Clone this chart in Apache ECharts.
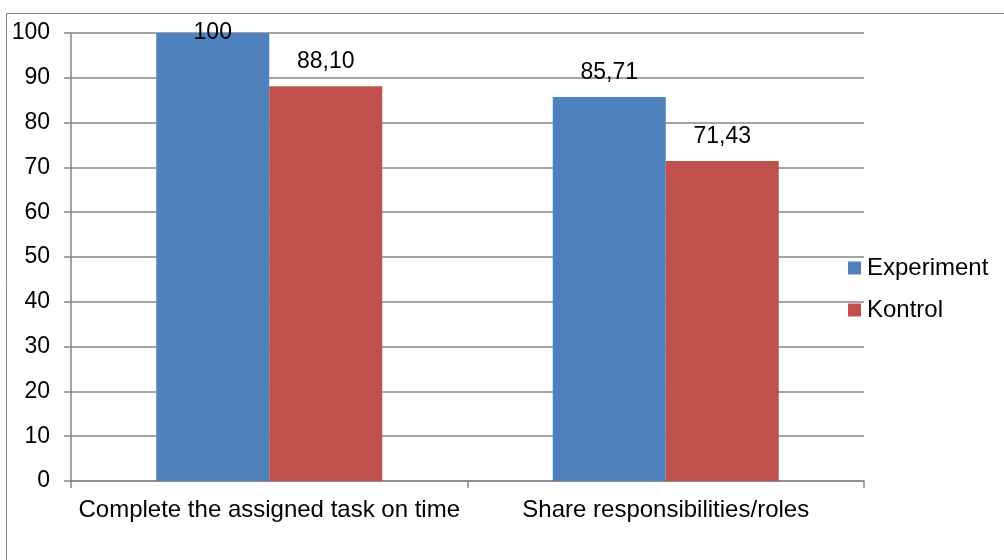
<!DOCTYPE html>
<html>
<head>
<meta charset="utf-8">
<script src="https://cdn.jsdelivr.net/npm/echarts@6/dist/echarts.min.js"></script>
<style>
  html, body { margin: 0; padding: 0; background: #fff; }
  #chart { width: 1004px; height: 560px; }
</style>
</head>
<body>
<div id="chart"></div>
<script>
// Categories and percentages for each group
const categories = ['Complete the assigned task on time', 'Share responsibilities/roles'];
const experimentValues = [100, 85.71];
const kontrolValues = [88.10, 71.43];
const yTicks = { min: 0, max: 100, interval: 10 };

const FONT = '"Liberation Sans", Arial, sans-serif';
const GRAY = '#868686';

// Decimal comma, whole numbers without decimals
function fmt(v) {
  return Number.isInteger(v) ? String(v) : v.toFixed(2).replace('.', ',');
}

// A label that would leave the plot area sits across the bar top instead
function toItems(values) {
  return values.map(v => v >= yTicks.max
    ? { value: v, label: { position: 'top', distance: -11 } }
    : v);
}

const labelBase = {
  show: true,
  position: 'top',
  distance: 13,
  color: '#000',
  fontFamily: FONT,
  fontSize: 23,
  formatter: p => fmt(p.value)
};

const chart = echarts.init(document.getElementById('chart'), null, { renderer: 'canvas' });
chart.setOption({
  animation: false,
  backgroundColor: '#fff',
  graphic: [{
    type: 'rect',
    shape: { x: 6.5, y: 13.5, width: 1100, height: 700 },
    style: { fill: 'none', stroke: GRAY, lineWidth: 1 },
    silent: true,
    z: -1
  }],
  grid: { left: 71, right: 140, top: 33, bottom: 79, containLabel: false },
  legend: {
    orient: 'vertical',
    left: 848,
    top: 256,
    padding: 0,
    itemWidth: 13,
    itemHeight: 13,
    itemGap: 18,
    icon: 'rect',
    textStyle: { fontFamily: FONT, fontSize: 24, lineHeight: 24, color: '#000', padding: [0, 0, 0, 1] },
    data: ['Experiment', 'Kontrol']
  },
  xAxis: {
    type: 'category',
    data: categories,
    axisLine: { lineStyle: { color: GRAY, width: 1.5 } },
    axisTick: { show: true, length: 7, alignWithLabel: false, lineStyle: { color: GRAY, width: 1.5 } },
    axisLabel: { fontFamily: FONT, fontSize: 24, color: '#000', margin: 17, interval: 0 },
    splitLine: { show: false }
  },
  yAxis: {
    type: 'value',
    min: yTicks.min,
    max: yTicks.max,
    interval: yTicks.interval,
    axisLine: { show: true, lineStyle: { color: GRAY, width: 1.5 } },
    axisTick: { show: true, length: 7, lineStyle: { color: GRAY, width: 1.5 } },
    axisLabel: { fontFamily: FONT, fontSize: 23, color: '#000', margin: 21 },
    splitLine: { show: true, lineStyle: { color: GRAY, width: 1.5 } }
  },
  series: [
    {
      name: 'Experiment',
      type: 'bar',
      data: toItems(experimentValues),
      barGap: '0%',
      barCategoryGap: '43%',
      itemStyle: { color: '#4F81BD' },
      label: labelBase
    },
    {
      name: 'Kontrol',
      type: 'bar',
      data: toItems(kontrolValues),
      itemStyle: { color: '#C0504D' },
      label: labelBase
    }
  ]
});
</script>
</body>
</html>
